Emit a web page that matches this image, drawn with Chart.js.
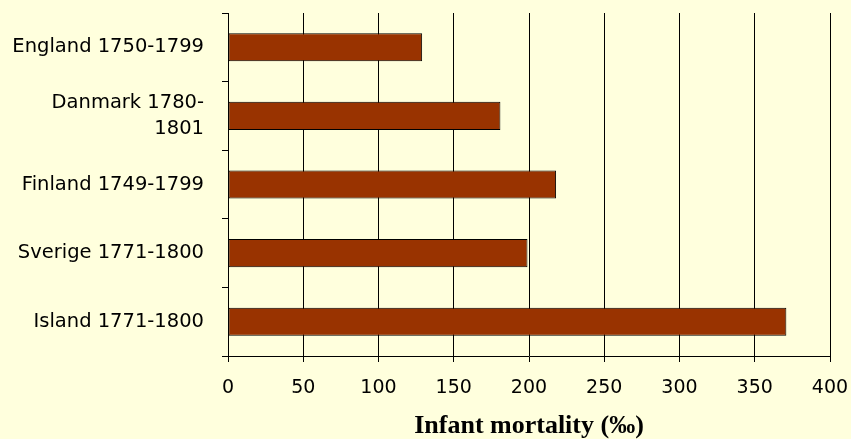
<!DOCTYPE html>
<html>
<head>
<meta charset="utf-8">
<script src="https://cdn.jsdelivr.net/npm/chart.js@4/dist/chart.umd.min.js"></script>
<style>
    html, body { margin: 0; padding: 0; background: #ffffdd; }
    #wrap { width: 851px; height: 439px; }
</style>
</head>
<body>
<div id="wrap"><canvas id="grafica"></canvas></div>
<script>
// Datos
const categorias = [
    'England 1750-1799',
    ['Danmark 1780-', '1801'],
    'Finland 1749-1799',
    'Sverige 1771-1800',
    'Island 1771-1800'
];
const mortalidad = [129, 181, 218, 199, 371];
const ticksX = [0, 50, 100, 150, 200, 250, 300, 350, 400];

// Colores
const COLORES = {
    fondo: '#ffffdd',
    barra: '#993300',
    linea: '#000000',
    texto: '#000000'
};

const ctx = document.getElementById('grafica');

new Chart(ctx, {
    type: 'bar',
    data: {
        labels: categorias,
        datasets: [{
            label: 'Infant mortality',
            data: mortalidad,
            backgroundColor: COLORES.barra,
            borderColor: COLORES.linea,
            borderWidth: 1,
            borderSkipped: false,
            barPercentage: 0.41,
            categoryPercentage: 1
        }]
    },
    options: {
        indexAxis: 'y',
        responsive: true,
        maintainAspectRatio: false,
        animation: false,
        layout: {
            padding: { top: 13, right: 21, bottom: 0, left: 0 }
        },
        plugins: {
            legend: { display: false },
            tooltip: { enabled: false }
        },
        scales: {
            x: {
                min: ticksX[0],
                max: ticksX[ticksX.length - 1],
                afterBuildTicks: function (scale) {
                    scale.ticks = ticksX.map(v => ({ value: v }));
                },
                afterFit: function (scale) {
                    scale.height = 83;
                    scale.paddingLeft = 0;
                    scale.paddingRight = 0;
                },
                grid: {
                    color: COLORES.linea,
                    lineWidth: 1,
                    tickLength: 6
                },
                border: { color: COLORES.linea, width: 1 },
                ticks: {
                    color: COLORES.texto,
                    padding: 15,
                    maxRotation: 0,
                    font: { family: "'DejaVu Sans', Verdana, sans-serif", size: 19, lineHeight: 1.2 }
                },
                title: {
                    display: true,
                    text: 'Infant mortality (‰)',
                    color: COLORES.texto,
                    padding: { top: 2, bottom: 0 },
                    font: { family: "'Liberation Serif', 'Times New Roman', serif", size: 26, weight: 'bold', lineHeight: 1 }
                }
            },
            y: {
                afterFit: function (scale) {
                    scale.width = 228;
                    scale.paddingTop = 0;
                    scale.paddingBottom = 0;
                },
                grid: {
                    drawOnChartArea: false,
                    color: COLORES.linea,
                    tickLength: 6,
                    offset: true
                },
                border: { color: COLORES.linea, width: 1 },
                ticks: {
                    color: COLORES.texto,
                    padding: 18,
                    font: { family: "'DejaVu Sans', Verdana, sans-serif", size: 19.5, lineHeight: '26px' }
                }
            }
        }
    }
});
</script>
</body>
</html>
